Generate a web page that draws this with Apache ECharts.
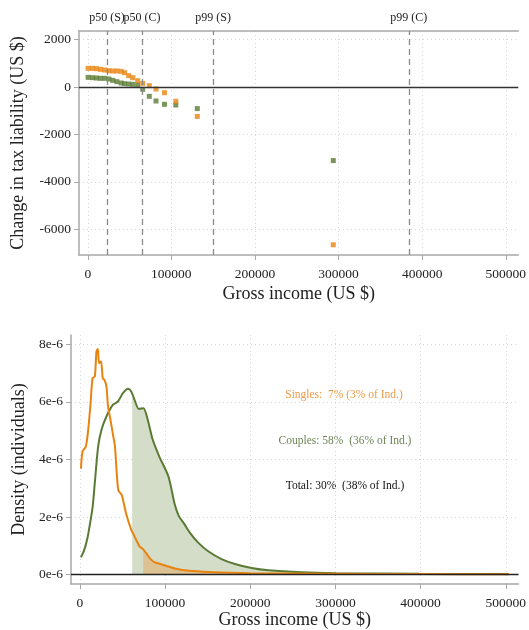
<!DOCTYPE html>
<html><head><meta charset="utf-8">
<script src="https://cdn.jsdelivr.net/npm/echarts@6/dist/echarts.min.js"></script>
<style>html,body{margin:0;padding:0;background:#fff}#c{width:529px;height:630px}</style>
</head><body><div id="c"></div>
<script>
// ---- Top panel: change in tax liability by income bin ----
const binIncome     = [400, 5600, 10300, 15100, 20200, 25300, 30000, 34800, 40000, 44000, 49000, 53800, 59700, 65700, 73600, 81600, 91800, 105300, 131000, 293700];
const singlesChange = [786, 786, 772, 744, 716, 688, 674, 674, 660, 604, 477, 393, 267, 154, 56, -84, -239, -600, -1240, -6650];
const couplesChange = [407, 393, 379, 365, 365, 337, 281, 225, 168, 140, 126, 112, 98, -98, -393, -589, -730, -758, -910, -3100];
const pctLabels = ['p50 (S)', 'p50 (C)', 'p99 (S)', 'p99 (C)'];
const pctValues = [23000, 65000, 150000, 384000];
const incomeTicks = [0, 100000, 200000, 300000, 400000, 500000];
const changeTicks = [-6000, -4000, -2000, 0, 2000];

// ---- Bottom panel: income density (units of 1e-6) ----
const densityTicks = [0, 2, 4, 6, 8];
const singlesIncome  = [1200, 3100, 7000, 9700, 12500, 14800, 17500, 19400, 21000, 22500, 24800, 26800, 28800, 31100, 33000, 35800, 38800, 41100, 43500, 45200, 49100, 54200, 60200, 66000, 69900, 73800, 77700, 83500, 89400, 101000, 112700, 128200, 151500, 200000, 300000, 400000, 504000];
const singlesDensity = [3.68, 4.28, 4.45, 5.03, 5.96, 6.82, 6.88, 7.75, 7.83, 7.34, 7.40, 6.82, 6.76, 6.53, 5.84, 5.38, 4.86, 4.45, 3.40, 2.92, 2.76, 2.12, 1.56, 1.21, 0.98, 0.89, 0.75, 0.52, 0.41, 0.31, 0.20, 0.13, 0.09, 0.05, 0.03, 0.02, 0.01];
const couplesIncome  = [1200, 5000, 8900, 12000, 14900, 17500, 21400, 25300, 31100, 38800, 44600, 50500, 56300, 60200, 64100, 69200, 74600, 79600, 85500, 93200, 104000, 111200, 116000, 122300, 129000, 138800, 150600, 166300, 182000, 201600, 221300, 260600, 300000, 398300, 503000];
const couplesDensity = [0.60, 0.85, 1.28, 1.80, 2.34, 3.20, 4.45, 5.03, 5.49, 5.90, 6.01, 6.30, 6.45, 6.36, 6.07, 5.75, 5.78, 5.38, 4.68, 4.10, 3.40, 2.45, 2.04, 1.77, 1.46, 1.11, 0.81, 0.54, 0.37, 0.23, 0.15, 0.08, 0.05, 0.03, 0.02];
const singlesCut = 74200;
const couplesCut = 61300;
const notes = ['Singles:  7% (3% of Ind.)', 'Couples: 58%  (36% of Ind.)', 'Total: 30%  (38% of Ind.)'];

const FONT = 'Liberation Serif';
const ORANGE = '#e98310';
const GREEN = '#5a7a34';
const AXIS = '#a8a8a8';
const GRID = '#d6d6d6';

function pairs(xs, ys) { return xs.map((x, i) => [x, ys[i]]); }
function tailFrom(xs, ys, cut) {
  let i = xs.findIndex(x => x >= cut);
  const y = ys[i - 1] + (ys[i] - ys[i - 1]) * (cut - xs[i - 1]) / (xs[i] - xs[i - 1]);
  const out = [[cut, y]];
  for (; i < xs.length; i++) out.push([xs[i], ys[i]]);
  return out;
}
const plain = v => String(v);

const xCommon = {
  type: 'value', min: -10500, max: 515000,
  axisLine: { show: true, onZero: false, lineStyle: { color: AXIS, width: 1.5 } },
  axisTick: { show: true, length: 5, customValues: incomeTicks, lineStyle: { color: AXIS } },
  axisLabel: { customValues: incomeTicks, formatter: plain, fontFamily: FONT, fontSize: 13.5, color: '#222', margin: 12 },
  splitLine: { show: true, lineStyle: { color: GRID, type: [1, 3] } },
  name: 'Gross income (US $)', nameLocation: 'middle',
  nameTextStyle: { fontFamily: FONT, fontSize: 18, color: '#222' }
};

const option = {
  animation: false,
  backgroundColor: '#fff',
  grid: [
    { left: 79, top: 31, right: 7, bottom: 375 },
    { left: 71, top: 335, right: 7, bottom: 45.5 }
  ],
  xAxis: [
    Object.assign({}, xCommon, { gridIndex: 0, nameGap: 30 }),
    { gridIndex: 0, type: 'value', position: 'top', min: -10500, max: 515000,
      axisLine: { show: true, onZero: false, lineStyle: { color: AXIS, width: 1.5 } },
      axisTick: { show: false }, axisLabel: { show: false }, splitLine: { show: false } },
    Object.assign({}, xCommon, { gridIndex: 1, nameGap: 25, axisLabel: Object.assign({}, xCommon.axisLabel, { margin: 12 }) })
  ],
  yAxis: [
    { gridIndex: 0, type: 'value', min: -7080, max: 2360,
      axisLine: { show: true, onZero: false, lineStyle: { color: AXIS, width: 1.5 } },
      axisTick: { show: true, length: 5, customValues: changeTicks, lineStyle: { color: AXIS } },
      axisLabel: { customValues: changeTicks, formatter: plain, fontFamily: FONT, fontSize: 13.5, color: '#222', margin: 8 },
      splitLine: { show: true, lineStyle: { color: GRID, type: [1, 3] } },
      name: 'Change in tax liability (US $)', nameLocation: 'middle', nameGap: 52,
      nameTextStyle: { fontFamily: FONT, fontSize: 18, color: '#222' } },
    { gridIndex: 1, type: 'value', min: -0.33, max: 8.32,
      axisLine: { show: true, onZero: false, lineStyle: { color: AXIS, width: 1.5 } },
      axisTick: { show: true, length: 5, customValues: densityTicks, lineStyle: { color: AXIS } },
      axisLabel: { customValues: densityTicks, formatter: v => v + 'e-6', fontFamily: FONT, fontSize: 13.5, color: '#222', margin: 8 },
      splitLine: { show: true, lineStyle: { color: GRID, type: [1, 3] } },
      name: 'Density (individuals)', nameLocation: 'middle', nameGap: 43,
      nameTextStyle: { fontFamily: FONT, fontSize: 18, color: '#222' } }
  ],
  series: [
    { type: 'scatter', xAxisIndex: 0, yAxisIndex: 0, symbol: 'rect', symbolSize: 5,
      itemStyle: { color: GREEN }, data: pairs(binIncome, couplesChange), z: 3,
      markLine: { silent: true, symbol: 'none', animation: false,
        lineStyle: { type: [6, 4], color: '#8a8a8a', width: 1.3 },
        label: { position: 'end', formatter: p => p.name, fontFamily: FONT, fontSize: 12, color: '#222', distance: 7 },
        data: pctValues.map((v, i) => ({ xAxis: v, name: pctLabels[i] })).concat([
          { yAxis: 0, name: '', lineStyle: { type: 'solid', color: '#333', width: 1.4 }, label: { show: false } }
        ]) } },
    { type: 'scatter', xAxisIndex: 0, yAxisIndex: 0, symbol: 'rect', symbolSize: 5,
      itemStyle: { color: ORANGE }, data: pairs(binIncome, singlesChange), z: 4 },

    { type: 'line', xAxisIndex: 2, yAxisIndex: 1, data: tailFrom(couplesIncome, couplesDensity, couplesCut),
      smooth: 0.25, showSymbol: false, lineStyle: { width: 0 }, areaStyle: { color: '#d4ddc8', opacity: 1, origin: 0 }, z: 1,
      markLine: { silent: true, symbol: 'none', animation: false, label: { show: false },
        lineStyle: { type: 'solid', color: '#222', width: 1.3 }, data: [{ yAxis: 0 }] } },
    { type: 'line', xAxisIndex: 2, yAxisIndex: 1, data: tailFrom(singlesIncome, singlesDensity, singlesCut),
      smooth: 0.25, showSymbol: false, lineStyle: { width: 0 }, areaStyle: { color: '#dcc293', opacity: 1, origin: 0 }, z: 2 },
    { type: 'line', xAxisIndex: 2, yAxisIndex: 1, data: pairs(couplesIncome, couplesDensity),
      smooth: 0.25, showSymbol: false, lineStyle: { width: 2, color: GREEN }, z: 3 },
    { type: 'line', xAxisIndex: 2, yAxisIndex: 1, data: pairs(singlesIncome, singlesDensity),
      smooth: 0.25, showSymbol: false, lineStyle: { width: 2, color: ORANGE }, z: 4 }
  ],
  graphic: [
    { type: 'text', x: 344, y: 395, silent: true, style: { text: notes[0], fill: '#ee9a48', font: '11.5px "Liberation Serif"', align: 'center', verticalAlign: 'middle' } },
    { type: 'text', x: 345, y: 441, silent: true, style: { text: notes[1], fill: '#6f8457', font: '11.5px "Liberation Serif"', align: 'center', verticalAlign: 'middle' } },
    { type: 'text', x: 345, y: 486, silent: true, style: { text: notes[2], fill: '#111', font: '11.5px "Liberation Serif"', align: 'center', verticalAlign: 'middle' } }
  ]
};

const chart = echarts.init(document.getElementById('c'), null, { renderer: 'canvas' });
chart.setOption(option);
</script>
</body></html>
